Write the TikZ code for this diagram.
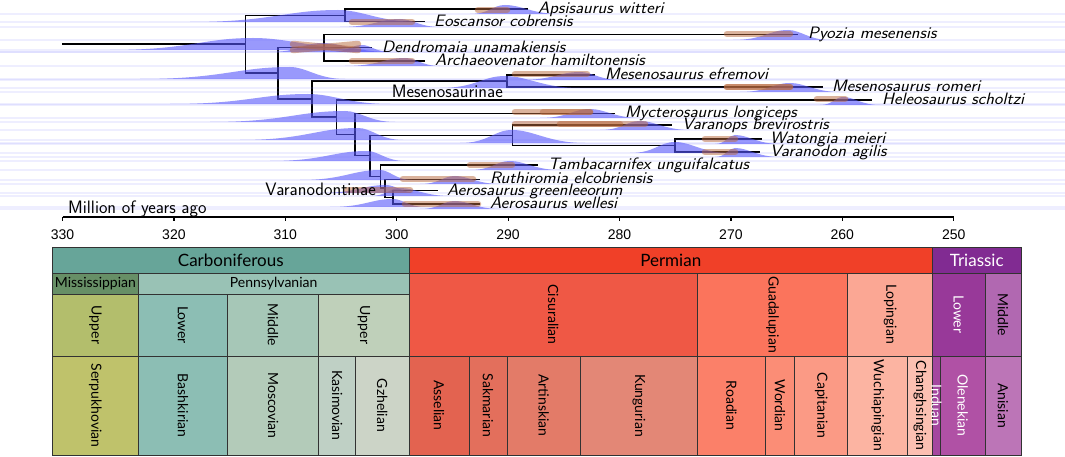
\documentclass[tikz,border=0pt]{standalone}
\usepackage{graphicx}
\usepackage{fontspec}
\newfontfamily\chartfont{Lato}
\newfontfamily\tickfont{Liberation Sans}
\usetikzlibrary{calc}
\definecolor{cCarb}{HTML}{67A599}
\definecolor{cMiss}{HTML}{678F66}
\definecolor{cPenn}{HTML}{99C2B5}
\definecolor{cUMiss}{HTML}{B3BE6C}
\definecolor{cSerp}{HTML}{BFC26B}
\definecolor{cLPenn}{HTML}{8CBEB4}
\definecolor{cBash}{HTML}{8CBEB4}
\definecolor{cMPenn}{HTML}{A6C7B7}
\definecolor{cMosc}{HTML}{B3CBB9}
\definecolor{cUPenn}{HTML}{BFD0BA}
\definecolor{cKasi}{HTML}{BFD0C5}
\definecolor{cGzhe}{HTML}{CCD4C7}
\definecolor{cPerm}{HTML}{F04028}
\definecolor{cCisu}{HTML}{EF5845}
\definecolor{cAsse}{HTML}{E36350}
\definecolor{cSakm}{HTML}{E36F5C}
\definecolor{cArti}{HTML}{E37B68}
\definecolor{cKung}{HTML}{E38776}
\definecolor{cGuad}{HTML}{FB745C}
\definecolor{cRoad}{HTML}{FB8069}
\definecolor{cWord}{HTML}{FB8D76}
\definecolor{cCapi}{HTML}{FB9A85}
\definecolor{cLopi}{HTML}{FBA794}
\definecolor{cWuch}{HTML}{FCB4A2}
\definecolor{cChan}{HTML}{FCC0B2}
\definecolor{cTria}{HTML}{812B92}
\definecolor{cLTri}{HTML}{983999}
\definecolor{cIndu}{HTML}{A4469F}
\definecolor{cOlen}{HTML}{B051A5}
\definecolor{cMTri}{HTML}{B168B1}
\definecolor{cAnis}{HTML}{BC75B7}
\definecolor{ridgeblue}{RGB}{85,85,250}
\definecolor{tailblue}{RGB}{120,120,255}
\definecolor{fossilbrown}{RGB}{185,105,60}
\definecolor{gridline}{RGB}{50,50,50}
\tikzset{
  tree/.style={line width=1.4pt, black},
  ridgefill/.style={fill=ridgeblue, fill opacity=0.6},
  tailline/.style={draw=tailblue, draw opacity=0.12, line width=1.1pt},
  fossil/.style={draw=fossilbrown, draw opacity=0.5, line width=6.5pt, line cap=round},
  tiplab/.style={anchor=base west, inner sep=0pt, font=\fontsize{16.5}{18}\selectfont\sffamily\itshape},
  cladelab/.style={inner sep=0pt, font=\fontsize{18}{20}\selectfont\sffamily},
  cellline/.style={draw=gridline, line width=0.7pt},
  hlab/.style={font=\fontsize{14}{16}\selectfont\chartfont, inner sep=0pt},
  plab/.style={font=\fontsize{17}{19}\selectfont\chartfont, inner sep=0pt},
  vlab/.style={font=\fontsize{14}{16}\selectfont\chartfont, inner sep=0pt, rotate=-90},
  axisline/.style={line width=1.2pt, black},
  ticklab/.style={font=\fontsize{14}{16}\selectfont\tickfont, inner sep=0pt},
}
\newcommand\wide[1]{\scalebox{1.09}[1]{#1}}
\newcommand\ridge[5]{%
  \draw[tailline] (0,#1) -- (1065,#1);
  \fill[ridgefill] (#2,#1) .. controls ({#3-0.45*(#3-#2)},#1) and ({#3-0.35*(#3-#2)},{#1-#5}) .. (#3,{#1-#5}) .. controls ({#3+0.3*(#4-#3)},{#1-#5}) and ({#3+0.5*(#4-#3)},#1) .. (#4,#1) -- cycle;}
\newcommand\gcell[8]{%
  \draw[cellline,fill=#6] (#2,#3) rectangle (#4,#5);
  \node[#7] (#1) at ({(#2+#4)/2},{(#3+#5)/2}) {#8};}
\begin{document}
\begin{tikzpicture}[x=1pt,y=-1pt]
\fill[white] (0,0) rectangle (1065,457);
\useasboundingbox (0,0) rectangle (1065,457);

% ---------- tree coordinates ----------
\coordinate (r0) at (62,44);
\coordinate (A) at (245.7,44);
\coordinate (B) at (345,15.3);
\coordinate (D) at (278,73);
\coordinate (C) at (324,47.7);
\coordinate (E) at (312,99);
\coordinate (F) at (507,81);
\coordinate (G) at (336.7,117);
\coordinate (L) at (355,134.5);
\coordinate (M) at (370,155.7);
\coordinate (H) at (512.7,135.5);
\coordinate (I) at (675,145.5);
\coordinate (N) at (380.7,176.5);
\coordinate (J) at (385,188);
\coordinate (K) at (393,197.3);
\coordinate (aps) at (528,9);
\coordinate (eos) at (425,21.7);
\coordinate (pyo) at (798,34.3);
\coordinate (den) at (372,47.7);
\coordinate (arc) at (425,61);
\coordinate (efr) at (595,75);
\coordinate (rom) at (823,87);
\coordinate (hel) at (872,100);
\coordinate (myc) at (615,113.3);
\coordinate (var) at (672,125);
\coordinate (wat) at (762,139);
\coordinate (vdn) at (760,152);
\coordinate (tam) at (538,165);
\coordinate (rut) at (480,179.5);
\coordinate (agr) at (438,190.7);
\coordinate (awe) at (480,204);

% ---------- tree ----------
\draw[tree] (r0) -- (A);
\draw[tree] (A) |- (B);  \draw[tree] (A) |- (D);
\draw[tree] (B) |- (aps); \draw[tree] (B) |- (eos);
\draw[tree] (D) |- (C);  \draw[tree] (D) |- (E);
\draw[tree] (C) |- (pyo); \draw[tree] (C) |- (den); \draw[tree] (C) |- (arc);
\draw[tree] (E) |- (F);  \draw[tree] (E) |- (G);
\draw[tree] (F) |- (efr); \draw[tree] (F) |- (rom);
\draw[tree] (G) |- (hel); \draw[tree] (G) |- (L);
\draw[tree] (L) |- (myc); \draw[tree] (L) |- (M);
\draw[tree] (M) |- (H);  \draw[tree] (M) |- (N);
\draw[tree] (H) |- (var); \draw[tree] (H) |- (I);
\draw[tree] (I) |- (wat); \draw[tree] (I) |- (vdn);
\draw[tree] (N) |- (tam); \draw[tree] (N) |- (J);
\draw[tree] (J) |- (rut); \draw[tree] (J) |- (K);
\draw[tree] (K) |- (agr); \draw[tree] (K) |- (awe);

% ---------- node age densities ----------
\ridge{50}{110}{253}{380}{12}
\ridge{22}{190}{338}{420}{12}
\ridge{52}{270}{322}{390}{9}
\ridge{79}{140}{290}{345}{12}
\ridge{104}{170}{308}{390}{10}
\ridge{122}{210}{345}{395}{11}
\ridge{140}{240}{358}{403}{12}
\ridge{161}{270}{367}{405}{10}
\ridge{180}{300}{380}{412}{10}
\ridge{193}{320}{386}{418}{8}
\ridge{207}{330}{393}{425}{8}
\ridge{88}{440}{505}{580}{12}
\ridge{143}{460}{512}{585}{13}
\ridge{153}{630}{675}{730}{11}
% tips
\ridge{14}{470}{505}{560}{9}
\ridge{27}{340}{400}{440}{8}
\ridge{40}{733}{788}{830}{10}
\ridge{52}{330}{362}{390}{7}
\ridge{66}{345}{405}{440}{8}
\ridge{80}{520}{580}{620}{8}
\ridge{92}{740}{790}{840}{9}
\ridge{105}{820}{843}{880}{8}
\ridge{118}{540}{590}{640}{9}
\ridge{130}{600}{640}{690}{9}
\ridge{144}{715}{735}{780}{9}
\ridge{157}{715}{735}{780}{9}
\ridge{170}{470}{510}{560}{9}
\ridge{184}{420}{455}{500}{8}
\ridge{196}{370}{400}{450}{8}
\ridge{209}{420}{455}{500}{8}

% ---------- fossil ranges ----------
\draw[fossil] (478,10) -- (507,10);
\draw[fossil] (352,22) -- (412,22);
\draw[fossil] (727,34) -- (790,34);
\draw[fossil] (293,44) -- (358,50);
\draw[fossil] (293,50) -- (358,44);
\draw[fossil] (352,61) -- (412,61);
\draw[fossil] (515,74) -- (587,74);
\draw[fossil] (727,87) -- (790,87);
\draw[fossil] (727,87) -- (790,87);
\draw[fossil] (817,99) -- (845,99);
\draw[fossil] (515,112) -- (590,112);
\draw[fossil] (543,112) -- (590,112);
\draw[fossil] (515,124) -- (645,124);
\draw[fossil] (560,124) -- (620,124);
\draw[fossil] (705,139) -- (735,139);
\draw[fossil] (705,152) -- (735,152);
\draw[fossil] (470,165) -- (512,165);
\draw[fossil] (403,179) -- (473,179);
\draw[fossil] (347,190) -- (410,190);
\draw[fossil] (405,204) -- (478,204);

% ---------- labels ----------
\node[tiplab] (laps) at ($(aps)+(10,4.5)$) {\wide{Apsisaurus witteri}};
\node[tiplab] (leos) at ($(eos)+(9,4.5)$) {\wide{Eoscansor cobrensis}};
\node[tiplab] (lpyo) at ($(pyo)+(10,4.5)$) {\wide{Pyozia mesenensis}};
\node[tiplab] (lden) at ($(den)+(10,4.5)$) {\wide{Dendromaia unamakiensis}};
\node[tiplab] (larc) at ($(arc)+(10,4.5)$) {\wide{Archaeovenator hamiltonensis}};
\node[tiplab] (lefr) at ($(efr)+(10,4.5)$) {\wide{Mesenosaurus efremovi}};
\node[tiplab] (lrom) at ($(rom)+(9,4.5)$) {\wide{Mesenosaurus romeri}};
\node[tiplab] (lhel) at ($(hel)+(10,4.5)$) {\wide{Heleosaurus scholtzi}};
\node[tiplab] (lmyc) at ($(myc)+(10,4.5)$) {\wide{Mycterosaurus longiceps}};
\node[tiplab] (lvar) at ($(var)+(10,4.5)$) {\wide{Varanops brevirostris}};
\node[tiplab] (lwat) at ($(wat)+(8,4.5)$) {\wide{Watongia meieri}};
\node[tiplab] (lvdn) at ($(vdn)+(10,4.5)$) {\wide{Varanodon agilis}};
\node[tiplab] (ltam) at ($(tam)+(10,4.5)$) {\wide{Tambacarnifex unguifalcatus}};
\node[tiplab] (lrut) at ($(rut)+(10,4.5)$) {\wide{Ruthiromia elcobriensis}};
\node[tiplab] (lagr) at ($(agr)+(9,4.5)$) {\wide{Aerosaurus greenleeorum}};
\node[tiplab] (lawe) at ($(awe)+(10,4.5)$) {\wide{Aerosaurus wellesi}};
\node[cladelab, anchor=base east] (lmes) at (503,98) {Mesenosaurinae};
\node[cladelab, anchor=base east] (lvarn) at (376,196) {Varanodontinae};

% ---------- time axis ----------
\coordinate (ax0) at (62.5,217);
\coordinate (ax1) at (953.7,217);
\draw[axisline] (ax0) -- (ax1);
\foreach \t in {330,320,310,300,290,280,270,260,250}{
  \coordinate (tk\t) at ({62.5+(330-\t)*11.14},217);
  \draw[axisline] (tk\t) -- ++(0,4);
  \node[ticklab] (tl\t) at ($(tk\t)+(0,18)$) {\t};
}
\node[cladelab, anchor=base west] (lmya) at (68,213) {Million of years ago};

% ---------- chronostratigraphic chart ----------
\gcell{carb}{52.5}{247}{409}{273}{cCarb}{plab}{Carboniferous}
\gcell{perm}{409}{247}{932.5}{273}{cPerm}{plab}{Permian}
\gcell{tria}{932.5}{247}{1021}{273}{cTria}{plab,white}{Triassic}
\gcell{miss}{52.5}{273}{138.3}{294}{cMiss}{hlab}{Mississippian}
\gcell{penn}{138.3}{273}{409}{294}{cPenn}{hlab}{Pennsylvanian}
\gcell{umiss}{52.5}{294}{138.3}{356}{cUMiss}{vlab}{Upper}
\gcell{lpenn}{138.3}{294}{227.4}{356}{cLPenn}{vlab}{Lower}
\gcell{mpenn}{227.4}{294}{318.7}{356}{cMPenn}{vlab}{Middle}
\gcell{upenn}{318.7}{294}{409}{356}{cUPenn}{vlab}{Upper}
\gcell{cisu}{409}{273}{697.4}{356}{cCisu}{vlab}{Cisuralian}
\gcell{guad}{697.4}{273}{847.8}{356}{cGuad}{vlab}{Guadalupian}
\gcell{lopi}{847.8}{273}{932.5}{356}{cLopi}{vlab}{Lopingian}
\gcell{ltri}{932.5}{273}{984.9}{356}{cLTri}{vlab,white}{Lower}
\gcell{mtri}{984.9}{273}{1021}{356}{cMTri}{vlab}{Middle}
\gcell{serp}{52.5}{356}{138.3}{455}{cSerp}{vlab}{Serpukhovian}
\gcell{bash}{138.3}{356}{227.4}{455}{cBash}{vlab}{Bashkirian}
\gcell{mosc}{227.4}{356}{318.7}{455}{cMosc}{vlab}{Moscovian}
\gcell{kasi}{318.7}{356}{355.5}{455}{cKasi}{vlab}{Kasimovian}
\gcell{gzhe}{355.5}{356}{409}{455}{cGzhe}{vlab}{Gzhelian}
\gcell{asse}{409}{356}{468.9}{455}{cAsse}{vlab}{Asselian}
\gcell{sakm}{468.9}{356}{507}{455}{cSakm}{vlab}{Sakmarian}
\gcell{arti}{507}{356}{580.5}{455}{cArti}{vlab}{Artinskian}
\gcell{kung}{580.5}{356}{697.4}{455}{cKung}{vlab}{Kungurian}
\gcell{road}{697.4}{356}{765.4}{455}{cRoad}{vlab}{Roadian}
\gcell{word}{765.4}{356}{794.6}{455}{cWord}{vlab}{Wordian}
\gcell{capi}{794.6}{356}{847.8}{455}{cCapi}{vlab}{Capitanian}
\gcell{wuch}{847.8}{356}{907.6}{455}{cWuch}{vlab}{Wuchiapingian}
\gcell{chan}{907.6}{356}{932.5}{455}{cChan}{vlab}{Changhsingian}
\gcell{olen}{940.3}{356}{984.9}{455}{cOlen}{vlab,white}{Olenekian}
\gcell{anis}{984.9}{356}{1021}{455}{cAnis}{vlab}{Anisian}
\gcell{indu}{932.5}{356}{940.3}{455}{cIndu}{vlab,white}{Induan}
\end{tikzpicture}
\end{document}
